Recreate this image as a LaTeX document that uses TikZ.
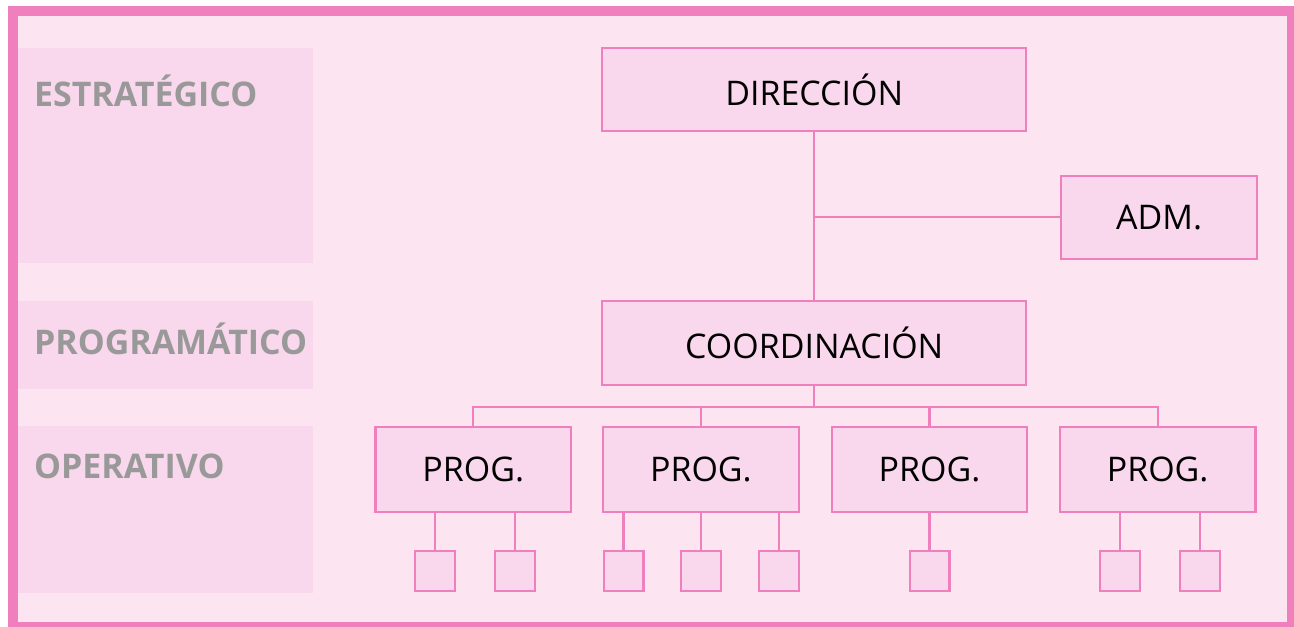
\documentclass[tikz,border=0pt]{standalone}
\usepackage{fontspec}
\setmainfont{Open Sans}
\usepackage{tikz}
\definecolor{rosa}{RGB}{240,128,189}
\definecolor{fondo}{RGB}{252,228,241}
\definecolor{caja}{RGB}{249,215,236}
\definecolor{gris}{RGB}{153,153,153}

\begin{document}
\begin{tikzpicture}[x=0.75pt,y=-0.75pt,
	box/.style={draw=rosa,fill=caja,line width=1.6pt,inner sep=0pt,font=\fontsize{25.5}{30}\selectfont},
	prog/.style={box,minimum width=147pt,minimum height=63.75pt},
	sq/.style={draw=rosa,fill=caja,line width=1.6pt,minimum size=30pt,inner sep=0pt},
	nivel/.style={anchor=west,inner sep=0pt,text=gris,font=\bfseries\fontsize{25.5}{30}\selectfont},
	every path/.style={draw=rosa,line width=1.6pt}]
	\useasboundingbox (0,0) rectangle (1294,625);
	\fill[white] (0,0) rectangle (1294,625);
	\fill[fondo] (12,10) rectangle (1293,627);
	\draw[line width=7.5pt] (12,10) rectangle (1293,627);
	\fill[caja] (18,48) rectangle (311,261);
	\fill[caja] (18,301) rectangle (311,388);
	\fill[caja] (18,427) rectangle (311,592);
	\node[nivel] (L1) at (32,90) {ESTRATÉGICO};
	\node[nivel] (L2) at (32,338) {PROGRAMÁTICO};
	\node[nivel] (L3) at (32,466) {OPERATIVO};
	\node[box,minimum width=318.75pt,minimum height=62.25pt] (D) at (814.5,88.5) {DIRECCIÓN};
	\node[box,minimum width=147pt,minimum height=62.25pt] (A) at (1160,216.5) {ADM.};
	\node[box,minimum width=318.75pt,minimum height=63.75pt] (C) at (814.5,342.5) {COORDINACIÓN};
	\node[prog] (P1) at (473,469.5) {PROG.};
	\node[prog] (P2) at (701,469.5) {PROG.};
	\node[prog] (P3) at (930,469.5) {PROG.};
	\node[prog] (P4) at (1158.5,469.5) {PROG.};
	\node[sq] (S11) at (434.5,570.5) {};
	\node[sq] (S12) at (514.5,570.5) {};
	\node[sq] (S21) at (623.5,570.5) {};
	\node[sq] (S22) at (701,570.5) {};
	\node[sq] (S23) at (779.5,570.5) {};
	\node[sq] (S31) at (930,570.5) {};
	\node[sq] (S41) at (1120.5,570.5) {};
	\node[sq] (S42) at (1201,570.5) {};
	\coordinate (J) at (D.south |- A.west);
	\coordinate (B) at (814.5,407);
	\draw (D) -- (C);
	\draw (J) -- (A);
	\draw (C) -- (B);
	\draw (P1.north) |- (B) -| (P4.north);
	\draw (P2.north) -- (P2.north |- B);
	\draw (P3.north) -- (P3.north |- B);
	\foreach \s in {S11,S12,S21,S22,S23,S31,S41,S42}
		\draw (\s.north) -- (\s.north |- P1.south);
\end{tikzpicture}
\end{document}
